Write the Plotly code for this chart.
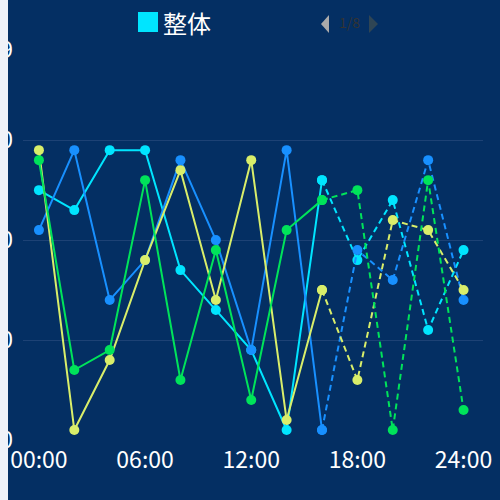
import plotly.graph_objects as go

# hours 0..24 step 2; last four points are a forecast (dashed)
hours = [0, 2, 4, 6, 8, 10, 12, 14, 16, 18, 20, 22, 24]
hour_ticks = [0, 6, 12, 18, 24]
hour_labels = ['00:00', '06:00', '12:00', '18:00', '24:00']
y_ticks = [0, 10, 20, 30, 39]

cyan_vals = [25, 23, 29, 29, 17, 13, 9, 1, 26, 18, 24, 11, 19]
blue_vals = [21, 29, 14, 18, 28, 20, 9, 29, 1, 19, 16, 28, 14]
yellow_vals = [29, 1, 8, 18, 27, 14, 28, 2, 15, 6, 22, 21, 15]
green_vals = [28, 7, 9, 26, 6, 19, 4, 21, 24, 25, 1, 26, 3]

series = [
    ('整体', cyan_vals, '#00e5ff'),
    ('b', blue_vals, '#1890ff'),
    ('y', yellow_vals, '#d9ee6a'),
    ('g', green_vals, '#00e35a'),
]
split = 8  # index of 16:00, where the solid part ends

BG = '#042f63'
W, H = 500, 500
ML, MR, MT, MB = 23, 17, 50, 60


def px_x(p):
    return (p - ML) / (W - ML - MR)


def px_y(p):
    return (H - MB - p) / (H - MT - MB)


fig = go.Figure()
for name, vals, color in series:
    fig.add_trace(go.Scatter(
        x=hours[:split + 1], y=vals[:split + 1], mode='lines+markers',
        line=dict(color=color, width=2),
        marker=dict(color=color, size=10),
        hoverinfo='skip', showlegend=False))
    fig.add_trace(go.Scatter(
        x=hours[split:], y=vals[split:], mode='lines+markers',
        line=dict(color=color, width=2, dash='6px,4px'),
        marker=dict(color=color, size=10),
        hoverinfo='skip', showlegend=False))

fig.update_layout(
    width=W, height=H,
    margin=dict(l=ML, r=MR, t=MT, b=MB, autoexpand=False),
    paper_bgcolor=BG, plot_bgcolor=BG,
    font=dict(family='Noto Sans CJK SC, Noto Sans, sans-serif', color='white', size=23),
    xaxis=dict(range=[-0.9, 25.1], tickvals=hour_ticks, ticktext=hour_labels,
               showgrid=False, zeroline=False, showline=False, ticks='',
               ticklabelstandoff=4,
               automargin=False, tickfont=dict(size=23, color='white')),
    yaxis=dict(range=[0, 39.02], tickvals=y_ticks, showgrid=True,
               gridcolor='#1d4275', gridwidth=1, zeroline=False,
               showline=False, ticks='', ticklabelstandoff=9,
               automargin=False, tickfont=dict(size=23, color='white')),
    shapes=[
        # light strip on the left edge that clips the y labels
        dict(type='rect', xref='paper', yref='paper',
             x0=px_x(-2), x1=px_x(8), y0=px_y(H + 2), y1=px_y(-2),
             fillcolor='#eff2f8', line=dict(width=0), layer='above'),
        # legend colour square
        dict(type='rect', xref='paper', yref='paper',
             x0=px_x(138), x1=px_x(158), y0=px_y(32), y1=px_y(12),
             fillcolor='#00e5ff', line=dict(width=0)),
        # pager triangles
        dict(type='path', xref='paper', yref='paper',
             path='M %f,%f L %f,%f L %f,%f Z' % (px_x(329), px_y(15), px_x(329), px_y(33),
                                                px_x(321), px_y(24)),
             fillcolor='#aaaaaa', line=dict(width=0)),
        dict(type='path', xref='paper', yref='paper',
             path='M %f,%f L %f,%f L %f,%f Z' % (px_x(369), px_y(15), px_x(369), px_y(33),
                                                px_x(378), px_y(24)),
             fillcolor='#2f4554', line=dict(width=0)),
    ],
    annotations=[
        dict(text='整体', xref='paper', yref='paper', x=px_x(161), y=px_y(22),
             xanchor='left', yanchor='middle', showarrow=False,
             font=dict(size=24, color='white')),
        dict(text='1/8', xref='paper', yref='paper', x=px_x(349.5), y=px_y(22),
             xanchor='center', yanchor='middle', showarrow=False,
             font=dict(size=14, color='#333333')),
    ],
)

# page margin off so the figure sits at the window's top-left corner
fig.write_html('out.html', config={'displayModeBar': False},
               post_script="document.body.style.margin='0';"
                           "document.body.style.background='#042f63';")
